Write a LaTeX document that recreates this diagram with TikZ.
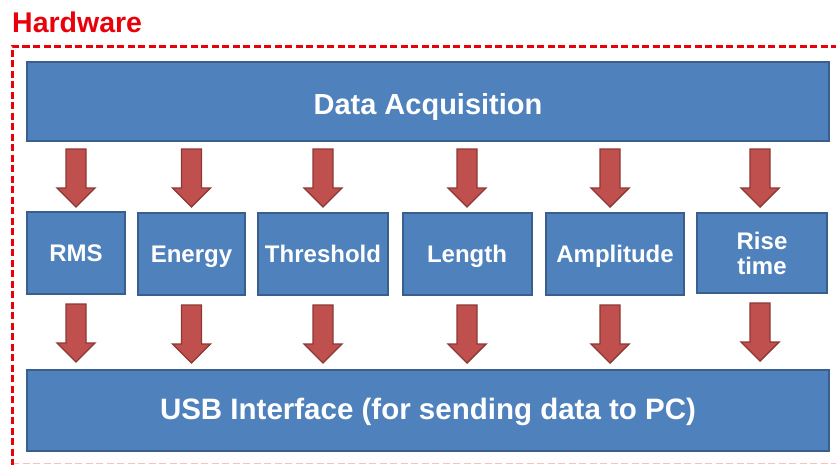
\documentclass[tikz,border=0pt]{standalone}
\usepackage{fontspec}
\setmainfont{Liberation Sans}
\usetikzlibrary{calc}
\definecolor{boxfill}{HTML}{4F81BD}
\definecolor{boxline}{HTML}{3A5F8E}
\definecolor{arrfill}{HTML}{C0504D}
\definecolor{arrline}{HTML}{8C3835}
\definecolor{hwred}{HTML}{E8000B}
\tikzset{
  blockbox/.style={draw=boxline, fill=boxfill, line width=2pt, inner sep=0pt,
    text=white, font=\bfseries, align=center},
  downarrow/.pic={
    \draw[draw=arrline, fill=arrfill, line width=1.4pt, line join=miter]
      (-10,0) -- (10,0) -- (10,39) -- (19,39) -- (0,58) -- (-19,39) -- (-10,39) -- cycle;
  }
}
\begin{document}
\begin{tikzpicture}[x=1pt, y=-1pt]
\useasboundingbox (0,0) rectangle (836,464);

% hardware boundary
\node[anchor=base west, text=hwred, font=\fontsize{28.5}{30}\selectfont\bfseries, inner sep=0pt] (hw) at (12,32.5) {Hardware};
\draw[hwred, line width=3pt, dash pattern=on 7pt off 3.5pt] (838,46) -- (12,46) -- (12,466);
\draw[hwred, line width=1pt, dash pattern=on 7pt off 3.5pt, opacity=0.25] (12,463) -- (838,463);

% top and bottom stages
\node[blockbox, text height=25.8pt, text depth=0pt, minimum width=802, minimum height=79,
  font=\fontsize{29}{32}\selectfont\bfseries] (da) at (428,101.5) {Data Acquisition};
\node[blockbox, text height=17.1pt, text depth=0pt, minimum width=802, minimum height=81,
  font=\fontsize{29.5}{32}\selectfont\bfseries] (usb) at (428,410.5) {USB Interface (for sending data to PC)};

% feature extraction blocks
\tikzset{feat/.style={blockbox, text height=17.2pt, text depth=0pt, minimum height=82,
  font=\fontsize{24}{26}\selectfont\bfseries}}
\node[feat, minimum width=98]  (rms)  at (76,253)    {RMS};
\node[feat, minimum width=107] (en)   at (191.5,254) {Energy};
\node[feat, minimum width=130] (thr)  at (323,254)   {Threshold};
\node[feat, minimum width=129] (len)  at (467,254)   {Length};
\node[feat, minimum width=138] (amp)  at (615,254)   {Amplitude};
\node[blockbox, minimum width=130, minimum height=80, font=\fontsize{24}{25}\selectfont\bfseries] (rise) at (762,253) {Rise\\time};

% block arrows between stages
\foreach \n/\dx in {rms/0, en/0, thr/0, len/0, amp/-5, rise/-2}{
  \pic at ($(da.south -| \n.center)+(\dx,7)$) {downarrow};
  \pic at ($(\n.south)+(\dx,9)$) {downarrow};
}
\end{tikzpicture}
\end{document}
